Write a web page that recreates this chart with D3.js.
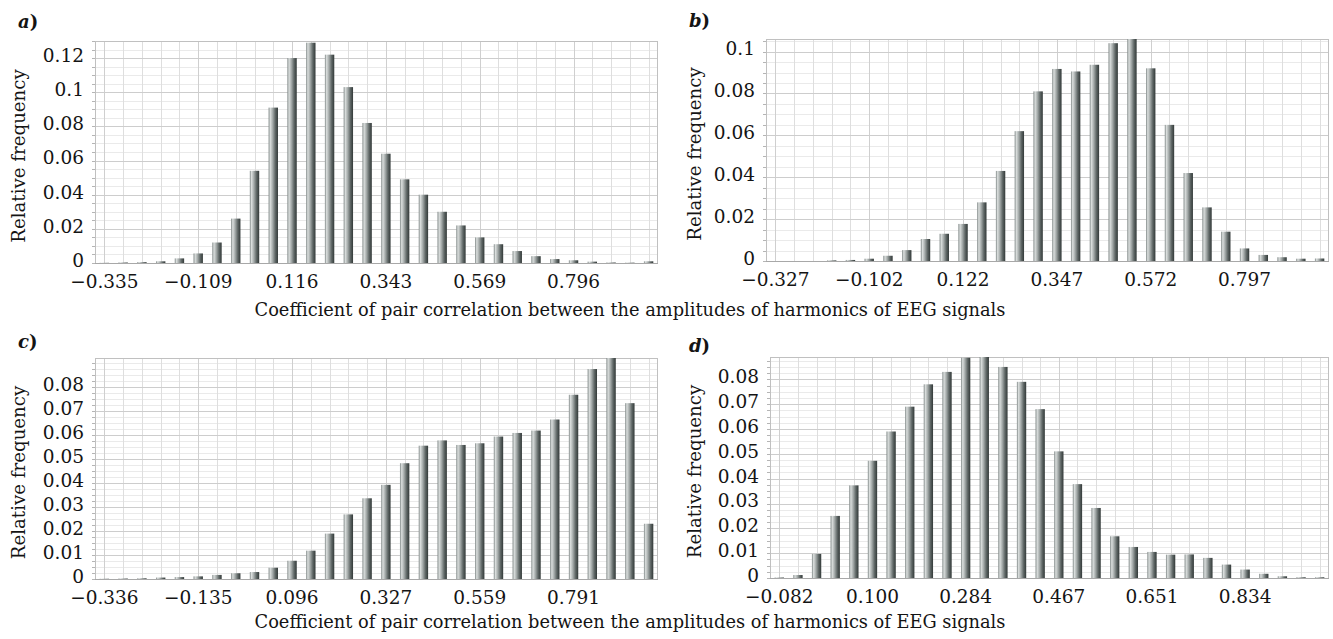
<!DOCTYPE html>
<html>
<head>
<meta charset="utf-8">
<script src="https://cdn.jsdelivr.net/npm/d3@7"></script>
<style>
  body { margin: 0; background: #fff; }
  text { font-family: "DejaVu Serif", serif; fill: #141414; }
</style>
</head>
<body>
<svg id="chart" width="1333" height="639"></svg>
<script>
// relative frequencies, 30 bins per panel
var freqA = [0.0001, 0.0003, 0.0005, 0.001, 0.0027, 0.0056, 0.012, 0.026, 0.054, 0.091,
             0.120, 0.129, 0.122, 0.103, 0.082, 0.064, 0.049, 0.040, 0.030, 0.022,
             0.015, 0.011, 0.007, 0.004, 0.0023, 0.0016, 0.0008, 0.0003, 0.0002, 0.001];
var freqB = [0, 0, 0, 0.0003, 0.0005, 0.0011, 0.0025, 0.0052, 0.0105, 0.013,
             0.0177, 0.028, 0.043, 0.062, 0.081, 0.0917, 0.0905, 0.0937, 0.104, 0.106,
             0.092, 0.065, 0.042, 0.0256, 0.014, 0.006, 0.0029, 0.0018, 0.0011, 0.0012];
var freqC = [0.0001, 0.0002, 0.0003, 0.0006, 0.0008, 0.0011, 0.0017, 0.0024, 0.0029, 0.0047,
             0.0076, 0.0118, 0.0189, 0.0269, 0.0336, 0.0392, 0.0482, 0.0555, 0.0577, 0.0558,
             0.0565, 0.0593, 0.0608, 0.0618, 0.0664, 0.0767, 0.0874, 0.092, 0.0732, 0.023];
var freqD = [0.0002, 0.0012, 0.0097, 0.025, 0.0373, 0.0472, 0.059, 0.069, 0.078, 0.083,
             0.0887, 0.089, 0.085, 0.079, 0.068, 0.051, 0.0378, 0.0282, 0.0168, 0.0125,
             0.0105, 0.0094, 0.0095, 0.0081, 0.0054, 0.0034, 0.0017, 0.0007, 0.0003, 0.0003];

// x tick labels (every 5th bin)
var xLabelsA = ["\u22120.335", "\u22120.109", "0.116", "0.343", "0.569", "0.796"];
var xLabelsB = ["\u22120.327", "\u22120.102", "0.122", "0.347", "0.572", "0.797"];
var xLabelsC = ["\u22120.336", "\u22120.135", "0.096", "0.327", "0.559", "0.791"];
var xLabelsD = ["\u22120.082", "0.100", "0.284", "0.467", "0.651", "0.834"];

// y ticks
var yTicksA = [0, 0.02, 0.04, 0.06, 0.08, 0.1, 0.12];
var yTicksB = [0, 0.02, 0.04, 0.06, 0.08, 0.1];
var yTicksCD = [0, 0.01, 0.02, 0.03, 0.04, 0.05, 0.06, 0.07, 0.08];

var xTitle = "Coefficient of pair correlation between the amplitudes of harmonics of EEG signals";
var yTitle = "Relative frequency";

var panels = [
  {letter: "a", values: freqA, xLabels: xLabelsA, yTicks: yTicksA, yMax: 0.13, minor: 0.005,
   left: 95, right: 658, top: 41, bottom: 263, letterX: 18, letterY: 28, titleX: 19},
  {letter: "b", values: freqB, xLabels: xLabelsB, yTicks: yTicksB, yMax: 0.106, minor: 0.005,
   left: 766, right: 1329, top: 39, bottom: 261, letterX: 689, letterY: 27, titleX: 695},
  {letter: "c", values: freqC, xLabels: xLabelsC, yTicks: yTicksCD, yMax: 0.092, minor: 0.0025,
   left: 95, right: 658, top: 358, bottom: 579, letterX: 18, letterY: 348, titleX: 19},
  {letter: "d", values: freqD, xLabels: xLabelsD, yTicks: yTicksCD, yMax: 0.089, minor: 0.0025,
   left: 770, right: 1329, top: 357, bottom: 578, letterX: 689, letterY: 352, titleX: 695}
];

var svg = d3.select("#chart");

var grad = svg.append("defs").append("linearGradient")
    .attr("id", "barGrad")
    .attr("x1", "0").attr("x2", "1").attr("y1", "0").attr("y2", "0");
[[0, "#7f8786"], [0.18, "#dadedd"], [0.42, "#a7adac"], [0.72, "#5e6665"], [1, "#323938"]]
  .forEach(function(s) {
    grad.append("stop").attr("offset", s[0]).attr("stop-color", s[1]);
  });

panels.forEach(drawPanel);

// shared x titles
svg.append("text").attr("x", 630).attr("y", 316).attr("text-anchor", "middle")
    .style("font-size", "17.8px").text(xTitle);
svg.append("text").attr("x", 630).attr("y", 628).attr("text-anchor", "middle")
    .style("font-size", "17.8px").text(xTitle);

function drawPanel(p) {
  var g = svg.append("g");
  var n = p.values.length;

  var x = d3.scaleBand()
      .domain(d3.range(n))
      .range([p.left, p.right])
      .paddingInner(0.5)
      .paddingOuter(0.25);

  var y = d3.scaleLinear()
      .domain([0, p.yMax])
      .range([p.bottom, p.top]);

  var minorVals = d3.range(0, p.yMax + 1e-9, p.minor);

  // minor horizontal grid
  g.selectAll(".hminor").data(minorVals).enter().append("line")
      .attr("x1", p.left).attr("x2", p.right)
      .attr("y1", function(d) { return Math.round(y(d)) + 0.5; })
      .attr("y2", function(d) { return Math.round(y(d)) + 0.5; })
      .attr("stroke", "#eaeaea");

  // vertical grid at each bin
  g.selectAll(".vgrid").data(d3.range(n)).enter().append("line")
      .attr("x1", function(d) { return Math.round(x(d) + x.bandwidth() / 2) + 0.5; })
      .attr("x2", function(d) { return Math.round(x(d) + x.bandwidth() / 2) + 0.5; })
      .attr("y1", p.top).attr("y2", p.bottom)
      .attr("stroke", function(d) { return d % 5 === 0 ? "#cfcfcf" : "#dedede"; });

  // major horizontal grid
  g.selectAll(".hmajor").data(p.yTicks).enter().append("line")
      .attr("x1", p.left).attr("x2", p.right)
      .attr("y1", function(d) { return Math.round(y(d)) + 0.5; })
      .attr("y2", function(d) { return Math.round(y(d)) + 0.5; })
      .attr("stroke", "#cdcdcd");

  // small ticks on the left edge
  g.selectAll(".ytick").data(minorVals).enter().append("line")
      .attr("x1", p.left - 3).attr("x2", p.left)
      .attr("y1", function(d) { return Math.round(y(d)) + 0.5; })
      .attr("y2", function(d) { return Math.round(y(d)) + 0.5; })
      .attr("stroke", "#b5b5b5");

  // frame
  g.append("rect")
      .attr("x", p.left + 0.5).attr("y", p.top + 0.5)
      .attr("width", p.right - p.left - 1).attr("height", p.bottom - p.top)
      .attr("fill", "none").attr("stroke", "#c0c0c0");

  // bars
  g.selectAll(".bar").data(p.values).enter().append("rect")
      .attr("x", function(d, i) { return x(i); })
      .attr("width", x.bandwidth())
      .attr("y", function(d) { return y(d); })
      .attr("height", function(d) { return Math.max(1, p.bottom - y(d)); })
      .attr("fill", "url(#barGrad)");

  // zero line
  g.append("line")
      .attr("x1", p.left).attr("x2", p.right)
      .attr("y1", p.bottom + 0.5).attr("y2", p.bottom + 0.5)
      .attr("stroke", "#a8a8a8");

  // axes
  var xAxis = d3.axisBottom(x)
      .tickValues(d3.range(0, n, 5).slice(0, p.xLabels.length))
      .tickFormat(function(d) { return p.xLabels[d / 5]; })
      .tickSize(0).tickPadding(12);
  var gx = g.append("g").attr("transform", "translate(0," + p.bottom + ")").call(xAxis);
  gx.select(".domain").remove();
  gx.selectAll("text").style("font-size", "18.5px").style("font-family", "DejaVu Serif").attr("fill", "#141414");

  var yAxis = d3.axisLeft(y)
      .tickValues(p.yTicks)
      .tickFormat(d3.format("~g"))
      .tickSize(0).tickPadding(11);
  var gy = g.append("g").attr("transform", "translate(" + p.left + ",0)").call(yAxis);
  gy.select(".domain").remove();
  gy.selectAll("text").style("font-size", "18.5px").style("font-family", "DejaVu Serif")
      .attr("dy", "0.18em").attr("fill", "#141414");

  // y title
  g.append("text")
      .attr("transform", "translate(" + p.titleX + "," + ((p.top + p.bottom) / 2 + 4) + ") rotate(-90)")
      .attr("text-anchor", "middle")
      .attr("dy", "0.35em")
      .style("font-size", "18.2px")
      .text(yTitle);

  // panel letter
  var lt = g.append("text")
      .attr("x", p.letterX).attr("y", p.letterY)
      .style("font-size", "18px").style("font-weight", "bold");
  lt.append("tspan").style("font-style", "italic").text(p.letter);
  lt.append("tspan").text(")");
}
</script>
</body>
</html>
